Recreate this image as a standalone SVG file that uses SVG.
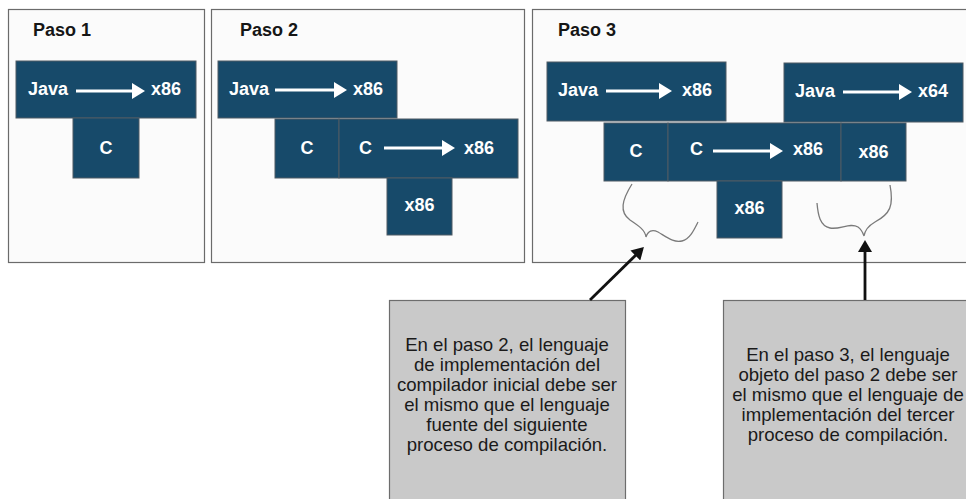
<svg xmlns="http://www.w3.org/2000/svg" width="966" height="499" viewBox="0 0 966 499">
<defs>
<style>
.panel{fill:#fbfbfb;stroke:#6b6b6b;stroke-width:1.2}
.blk{fill:#174a6a;stroke:#4f5b64;stroke-width:1}
.t{font-family:"Liberation Sans",Arial,sans-serif;font-size:18px;font-weight:bold;fill:#ffffff}
.ttl{font-family:"Liberation Sans",Arial,sans-serif;font-size:18px;font-weight:bold;fill:#161616}
.wa{stroke:#ffffff;stroke-width:3;fill:none}
.note{fill:#c9c9c9;stroke:#6d6d6d;stroke-width:1.2}
.nt{font-family:"Liberation Sans",Arial,sans-serif;font-size:18.6px;fill:#1a1a1a;text-anchor:middle}
.brace{fill:none;stroke:#7a7a7a;stroke-width:1.3}
.conn{stroke:#111111;stroke-width:2.8;fill:none}
</style>
<marker id="wh" viewBox="0 0 13 16" refX="3" refY="8" markerWidth="13" markerHeight="16" markerUnits="userSpaceOnUse" orient="auto">
<path d="M0,0 L13,8 L0,16 z" fill="#ffffff"/>
</marker>
<marker id="bh" viewBox="0 0 12 14" refX="3" refY="7" markerWidth="12" markerHeight="14" markerUnits="userSpaceOnUse" orient="auto">
<path d="M0,0 L12,7 L0,14 z" fill="#111111"/>
</marker>
</defs>

<g id="panel1">
<rect class="panel" x="8.5" y="9.5" width="196" height="253"/>
<text class="ttl" x="33" y="36">Paso 1</text>
<g id="p1-java">
<rect class="blk" x="16" y="61" width="180" height="57"/>
<text class="t" x="28" y="95">Java</text>
<line class="wa" x1="76" y1="91" x2="135" y2="91" marker-end="url(#wh)"/>
<text class="t" x="151" y="95">x86</text>
</g>
<g id="p1-c">
<rect class="blk" x="73" y="118" width="66" height="60"/>
<text class="t" x="106" y="154" text-anchor="middle">C</text>
</g>
</g>

<g id="panel2">
<rect class="panel" x="211.5" y="9.5" width="313" height="253"/>
<text class="ttl" x="240" y="36">Paso 2</text>
<g id="p2-java">
<rect class="blk" x="218" y="61" width="179" height="57"/>
<text class="t" x="229" y="95">Java</text>
<line class="wa" x1="275" y1="90" x2="337" y2="90" marker-end="url(#wh)"/>
<text class="t" x="353" y="95">x86</text>
</g>
<g id="p2-c">
<rect class="blk" x="275" y="119" width="64" height="59"/>
<text class="t" x="307" y="154" text-anchor="middle">C</text>
</g>
<g id="p2-cx86">
<rect class="blk" x="339" y="119" width="179" height="59"/>
<text class="t" x="359" y="154">C</text>
<line class="wa" x1="384" y1="148" x2="445" y2="148" marker-end="url(#wh)"/>
<text class="t" x="464" y="154">x86</text>
</g>
<g id="p2-x86">
<rect class="blk" x="387" y="178" width="65" height="57"/>
<text class="t" x="419.5" y="211" text-anchor="middle">x86</text>
</g>
</g>

<g id="panel3">
<rect class="panel" x="532.5" y="9.5" width="445" height="253"/>
<text class="ttl" x="558" y="36">Paso 3</text>
<g id="p3-java1">
<rect class="blk" x="547" y="62" width="179" height="59"/>
<text class="t" x="558" y="96">Java</text>
<line class="wa" x1="606" y1="91" x2="662" y2="91" marker-end="url(#wh)"/>
<text class="t" x="682" y="96">x86</text>
</g>
<g id="p3-java2">
<rect class="blk" x="784" y="63" width="179" height="59"/>
<text class="t" x="795" y="97">Java</text>
<line class="wa" x1="843" y1="92" x2="902" y2="92" marker-end="url(#wh)"/>
<text class="t" x="918" y="97">x64</text>
</g>
<g id="p3-c">
<rect class="blk" x="604" y="123" width="64" height="58"/>
<text class="t" x="636" y="157" text-anchor="middle">C</text>
</g>
<g id="p3-cx86">
<rect class="blk" x="668" y="123" width="173" height="58"/>
<text class="t" x="690" y="155">C</text>
<line class="wa" x1="713" y1="151" x2="773" y2="151" marker-end="url(#wh)"/>
<text class="t" x="793" y="155">x86</text>
</g>
<g id="p3-x86r">
<rect class="blk" x="841" y="123" width="65" height="58"/>
<text class="t" x="873.5" y="158" text-anchor="middle">x86</text>
</g>
<g id="p3-x86b">
<rect class="blk" x="717" y="181" width="65" height="57"/>
<text class="t" x="749.5" y="214" text-anchor="middle">x86</text>
</g>
<g id="braces">
<path class="brace" d="M632,184 C622,200 619,212 630,220 C639,226 645,230 646,237 C648,231 652,229 658,232 C668,238 674,243 682,241 C690,239 694,230 698,222"/>
<path class="brace" d="M817,203 C818,215 820,226 830,228 C840,230 850,222 858,227 C862,230 863,233 864,236 C865,230 868,226 875,222 C890,214 894,206 890,185"/>
</g>
</g>

<g id="note1">
<rect class="note" x="389.5" y="300.5" width="236" height="205"/>
<text class="nt" x="507" y="351">En el paso 2, el lenguaje</text>
<text class="nt" x="507" y="371">de implementación del</text>
<text class="nt" x="507" y="391">compilador inicial debe ser</text>
<text class="nt" x="507" y="411">el mismo que el lenguaje</text>
<text class="nt" x="507" y="431">fuente del siguiente</text>
<text class="nt" x="507" y="451">proceso de compilación.</text>
</g>

<g id="note2">
<rect class="note" x="723.5" y="300.5" width="252" height="205"/>
<text class="nt" x="848" y="361">En el paso 3, el lenguaje</text>
<text class="nt" x="848" y="381">objeto del paso 2 debe ser</text>
<text class="nt" x="848" y="401">el mismo que el lenguaje de</text>
<text class="nt" x="848" y="421">implementación del tercer</text>
<text class="nt" x="848" y="441">proceso de compilación.</text>
</g>

<g id="connectors">
<line class="conn" x1="590" y1="300" x2="637.5" y2="253.4" marker-end="url(#bh)"/>
<line class="conn" x1="865" y1="300" x2="865" y2="249" marker-end="url(#bh)"/>
</g>
</svg>
